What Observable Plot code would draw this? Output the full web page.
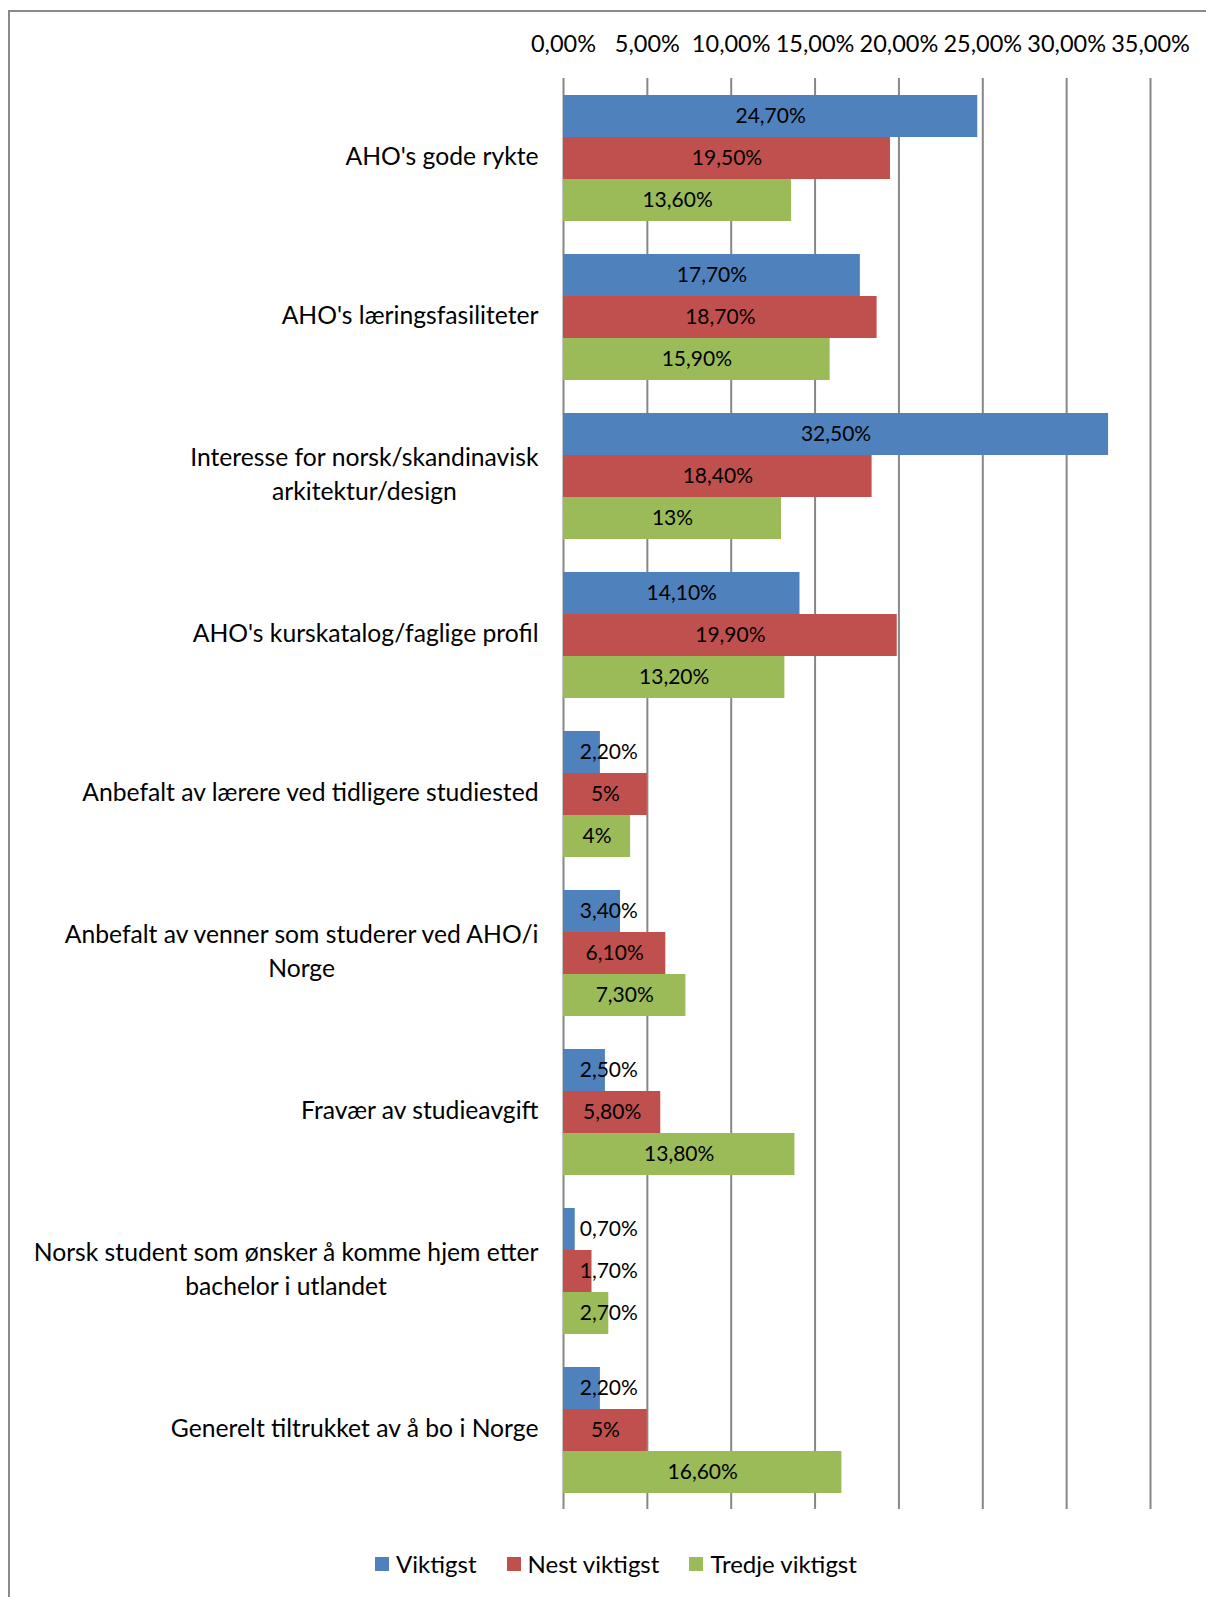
<!DOCTYPE html>
<html>
<head>
<meta charset="utf-8">
<script src="https://cdn.jsdelivr.net/npm/d3@7"></script>
<script src="https://cdn.jsdelivr.net/npm/@observablehq/plot@0.6"></script>
<style>
  html, body { margin: 0; padding: 0; overflow: hidden; background: #fff; }
  #wrap { position: relative; width: 1206px; height: 1597px; font-family: Lato, "Open Sans", sans-serif; }
  #frame { position: absolute; left: 8px; top: 10px; width: 1400px; height: 1800px;
           border-top: 2px solid #8a8a8a; border-left: 2px solid #8a8a8a; box-sizing: border-box; }
  #chart { position: absolute; left: 0; top: 0; }
  #legend { position: absolute; left: 13px; top: 1530px; width: 1206px; height: 67px;
            display: flex; justify-content: center; align-items: center; gap: 30px; font-size: 24px; color: #000; }
  .item { display: flex; align-items: center; gap: 7px; }
  .sw { width: 14px; height: 14px; display: inline-block; }
</style>
</head>
<body>
<div id="wrap">
  <div id="frame"></div>
  <div id="chart"></div>
  <div id="legend"></div>
</div>
<script>
const categories = [
  "AHO's gode rykte",
  "AHO's læringsfasiliteter",
  "Interesse for norsk/skandinavisk\narkitektur/design",
  "AHO's kurskatalog/faglige profil",
  "Anbefalt av lærere ved tidligere studiested",
  "Anbefalt av venner som studerer ved AHO/i\nNorge",
  "Fravær av studieavgift",
  "Norsk student som ønsker å komme hjem etter\nbachelor i utlandet",
  "Generelt tiltrukket av å bo i Norge"
];
const series = ["Viktigst", "Nest viktigst", "Tredje viktigst"];
const viktigst       = [24.7, 17.7, 32.5, 14.1, 2.2, 3.4, 2.5, 0.7, 2.2];
const nestViktigst   = [19.5, 18.7, 18.4, 19.9, 5,   6.1, 5.8, 1.7, 5];
const tredjeViktigst = [13.6, 15.9, 13,   13.2, 4,   7.3, 13.8, 2.7, 16.6];
const colors = ["#4F81BD", "#C0504D", "#9BBB59"];
const xTicks = [0, 5, 10, 15, 20, 25, 30, 35];

const seriesValues = [viktigst, nestViktigst, tredjeViktigst];
const rows = categories.flatMap((c, i) =>
  series.map((s, j) => ({category: c, series: s, value: seriesValues[j][i]})));

const fmtVal = v => Number.isInteger(v) ? `${v}%` : v.toFixed(2).replace(".", ",") + "%";
const fmtTick = v => v.toFixed(2).replace(".", ",") + "%";
// Excel-like label placement: centred in bar, but kept clear of the axis for short bars
const labelX = d => Math.max(d.value / 2, fmtVal(d.value).length > 3 ? 2.7 : 1.6);

const chart = Plot.plot({
  width: 1206,
  height: 1530,
  marginTop: 76,
  marginBottom: 19,
  marginLeft: 563,
  marginRight: 56,
  style: {fontFamily: "Lato, 'Open Sans', sans-serif", fontSize: "23.5px", color: "#000", background: "transparent"},
  x: {domain: [0, 35], ticks: xTicks, tickFormat: fmtTick, axis: "top", tickSize: 0, tickPadding: 27, label: null},
  y: {domain: series, paddingInner: 0, paddingOuter: 0.375, axis: null},
  fy: {domain: categories, padding: 0, axis: null},
  color: {domain: series, range: colors},
  marks: [
    Plot.ruleX(xTicks, {stroke: "#878787", strokeWidth: 2}),
    Plot.barX(rows, {fy: "category", y: "series", x: "value", fill: "series", inset: 0}),
    Plot.text(rows, {fy: "category", y: "series", x: labelX, text: d => fmtVal(d.value),
                     fill: "#000", fontSize: 21}),
    Plot.text(categories, {fy: d => d, text: d => d, frameAnchor: "left", dx: -25, dy: -4,
                           textAnchor: "end", lineHeight: 1.36, fontSize: 24.7, fill: "#000"})
  ]
});
document.getElementById("chart").appendChild(chart);

// centre multi-line category labels as a block, right-aligned against the axis
chart.querySelectorAll("text").forEach(t => {
  const spans = t.querySelectorAll("tspan");
  if (spans.length > 1) {
    let maxW = 0;
    spans.forEach(s => { maxW = Math.max(maxW, s.getComputedTextLength()); });
    t.setAttribute("text-anchor", "middle");
    t.style.textAnchor = "middle";
    spans.forEach(s => { s.setAttribute("x", -maxW / 2); s.setAttribute("text-anchor", "middle"); });
  }
});

const legend = document.getElementById("legend");
series.forEach((s, j) => {
  const it = document.createElement("div");
  it.className = "item";
  it.innerHTML = `<span class="sw" style="background:${colors[j]}"></span><span>${s}</span>`;
  legend.appendChild(it);
});
</script>
</body>
</html>
